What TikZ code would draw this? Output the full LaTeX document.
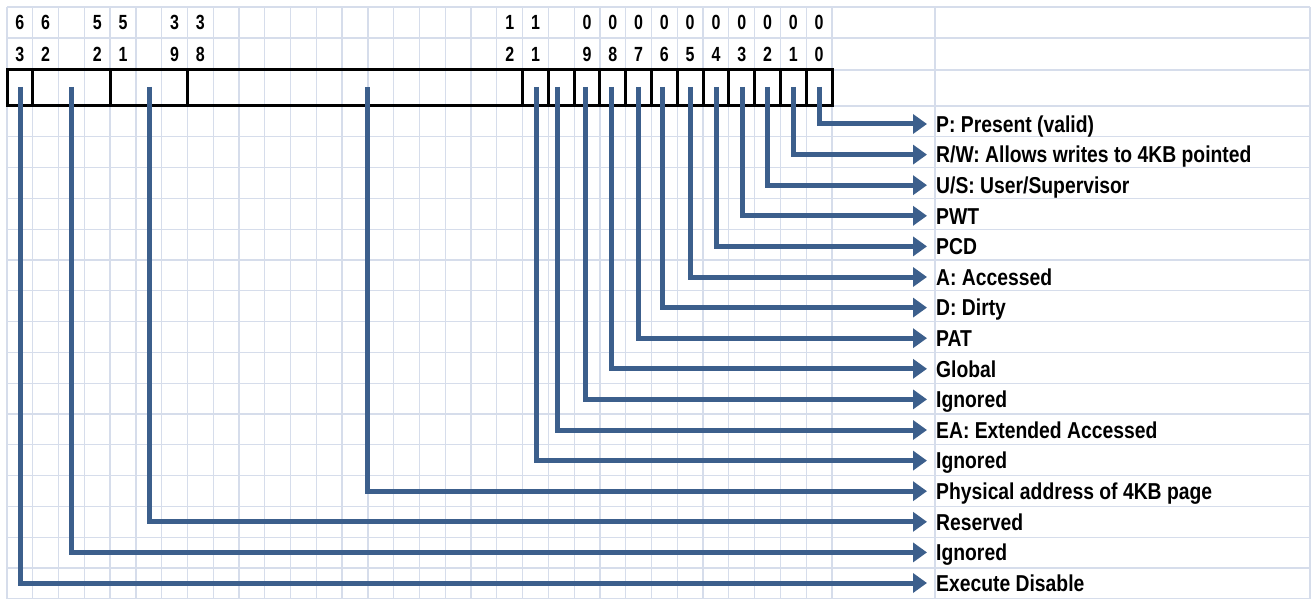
\documentclass[tikz,border=0pt]{standalone}
\usepackage{fontspec}
\newfontfamily\labfont{Liberation Sans}[FakeStretch=0.84]
\newfontfamily\digfont{Liberation Sans}[FakeStretch=0.78]
\usetikzlibrary{arrows.meta}
\definecolor{gridc}{RGB}{214,221,235}
\definecolor{arrc}{RGB}{60,95,140}
\begin{document}
\begin{tikzpicture}[x=1pt,y=-1pt,
  gridline/.style={draw=gridc, line width=1.3pt},
  boxline/.style={draw=black, line width=3pt},
  conn/.style={draw=arrc, line width=5pt, line join=miter, -{Triangle[length=14pt,width=19pt]}},
  lab/.style={anchor=west, inner sep=0pt, text height=16.5pt, text depth=0pt,
    font=\labfont\bfseries\fontsize{23}{23}\selectfont},
  dig/.style={inner sep=0pt, text height=14.6pt, text depth=0pt,
    font=\digfont\bfseries\fontsize{20.5}{20.5}\selectfont}]
\useasboundingbox[fill=white] (0,0) rectangle (1312,599);
% spreadsheet grid
\foreach \k in {0,...,32} \draw[gridline] ({7+25.78*\k},7) -- ({7+25.78*\k},599);
\draw[gridline] (935,7) -- (935,599);
\draw[gridline] (1310,7) -- (1310,599);
\foreach \yy in {7,38,70} \draw[gridline] (7,\yy) -- (1310,\yy);
\foreach \k in {0,...,16} \draw[gridline] (7,{106+30.8*\k}) -- (1310,{106+30.8*\k});
% bit numbers
\foreach \k/\a/\b in {0/6/3,1/6/2,3/5/2,4/5/1,6/3/9,7/3/8,19/1/2,20/1/1,22/0/9,23/0/8,24/0/7,25/0/6,26/0/5,27/0/4,28/0/3,29/0/2,30/0/1,31/0/0}{
  \node[dig] (hi\k) at ({19.9+25.78*\k},22.5) {\a};
  \node[dig] (lo\k) at ({19.9+25.78*\k},54) {\b};
}
% entry box
\draw[boxline] (7,70) rectangle (832,106);
\foreach \k in {1,4,7,20,21,22,23,24,25,26,27,28,29,30,31} \draw[boxline] ({7+25.78*\k},70) -- ({7+25.78*\k},106);
% start points
\coordinate (s0) at (819,87);
\coordinate (s1) at (793,87);
\coordinate (s2) at (767,87);
\coordinate (s3) at (742,87);
\coordinate (s4) at (716,87);
\coordinate (s5) at (690,87);
\coordinate (s6) at (662,87);
\coordinate (s7) at (638,87);
\coordinate (s8) at (611,87);
\coordinate (s9) at (585,87);
\coordinate (s10) at (557,87);
\coordinate (s11) at (536,87);
\coordinate (s12) at (367,87);
\coordinate (s13) at (149,87);
\coordinate (s14) at (71,87);
\coordinate (s15) at (20,87);
% labels
\node[lab] (l0) at (936,124) {P: Present (valid)};
\node[lab] (l1) at (936,154.6) {R/W: Allows writes to 4KB pointed};
\node[lab] (l2) at (936,185.2) {U/S: User/Supervisor};
\node[lab] (l3) at (936,215.8) {PWT};
\node[lab] (l4) at (936,246.4) {PCD};
\node[lab] (l5) at (936,277) {A: Accessed};
\node[lab] (l6) at (936,307.6) {D: Dirty};
\node[lab] (l7) at (936,338.2) {PAT};
\node[lab] (l8) at (936,368.8) {Global};
\node[lab] (l9) at (936,399.4) {Ignored};
\node[lab] (l10) at (936,430) {EA: Extended Accessed};
\node[lab] (l11) at (936,460.6) {Ignored};
\node[lab] (l12) at (936,491.2) {Physical address of 4KB page};
\node[lab] (l13) at (936,521.8) {Reserved};
\node[lab] (l14) at (936,552.4) {Ignored};
\node[lab] (l15) at (936,583) {Execute Disable};
% connectors
\foreach \i in {0,...,15} \draw[conn] (s\i) |- ([xshift=-9pt]l\i.west);
\end{tikzpicture}
\end{document}
